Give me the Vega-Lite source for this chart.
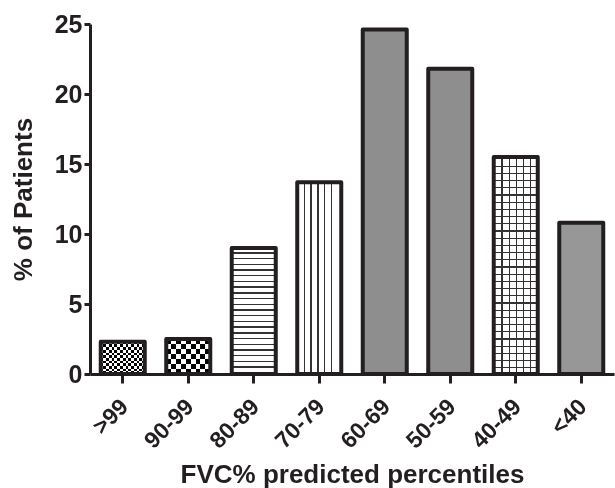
{
  "$schema": "https://vega.github.io/schema/vega-lite/v6.json",
  "width": 524,
  "height": 350,
  "autosize": {"type": "none"},
  "padding": {"left": 90, "top": 24, "right": 1, "bottom": 114},
  "background": "white",
  "data": {
    "values": [
      {"range": ">99", "pct": 2.3, "shade": "a"},
      {"range": "90-99", "pct": 2.5, "shade": "b"},
      {"range": "80-89", "pct": 9.0, "shade": "c"},
      {"range": "70-79", "pct": 13.7, "shade": "d"},
      {"range": "60-69", "pct": 24.6, "shade": "e"},
      {"range": "50-59", "pct": 21.8, "shade": "f"},
      {"range": "40-49", "pct": 15.5, "shade": "g"},
      {"range": "<40", "pct": 10.8, "shade": "h"}
    ]
  },
  "encoding": {
    "x": {
      "field": "range",
      "type": "nominal",
      "sort": null,
      "scale": {"domain": [">99", "90-99", "80-89", "70-79", "60-69", "50-59", "40-49", "<40"], "paddingInner": 0.328, "paddingOuter": 0.164, "align": 0.5},
      "axis": {
        "title": "FVC% predicted percentiles",
        "titleFont": "Liberation Sans",
        "titleFontSize": 26,
        "titleFontWeight": "bold",
        "titleColor": "#231f20",
        "titlePadding": 9,
        "labelAngle": -45,
        "labelAlign": "right",
        "labelBaseline": "top",
        "labelFont": "Liberation Sans",
        "labelFontSize": 23,
        "labelFontWeight": "bold",
        "labelColor": "#231f20",
        "labelPadding": 12,
        "labelOffset": -6,
        "domainColor": "#231f20",
        "domainWidth": 3,
        "tickColor": "#231f20",
        "tickWidth": 3,
        "tickSize": 9,
        "grid": false
      }
    },
    "y": {
      "field": "pct",
      "type": "quantitative",
      "scale": {"domain": [0, 25], "nice": false},
      "axis": {
        "title": "% of Patients",
        "titleFont": "Liberation Sans",
        "titleFontSize": 26,
        "titleFontWeight": "bold",
        "titleColor": "#231f20",
        "titlePadding": 18,
        "values": [0, 5, 10, 15, 20, 25],
        "labelFont": "Liberation Sans",
        "labelFontSize": 25,
        "labelFontWeight": "bold",
        "labelColor": "#231f20",
        "labelPadding": 2,
        "domainColor": "#231f20",
        "domainWidth": 3,
        "tickColor": "#231f20",
        "tickWidth": 3,
        "tickSize": 6,
        "grid": false
      }
    }
  },
  "layer": [
    {
      "mark": {"type": "bar"},
      "encoding": {
        "fill": {
          "field": "shade",
          "type": "nominal",
          "legend": null,
          "scale": {
            "domain": ["a", "b", "c", "d", "e", "f", "g", "h"],
            "range": ["#606060", "#7a7a7a", "#c4c4c4", "#c2c2c2", "#8e8e8e", "#8e8e8e", "#a8a8a8", "#979797"]
          }
        }
      }
    },
    {
      "transform": [{"filter": "datum.shade === 'a'"}],
      "mark": {"type": "bar", "fill": {"gradient": "linear", "x1": 0, "y1": 0, "x2": 0, "y2": 1, "stops": [
        {"offset": 0, "color": "#000000"}, {"offset": 0.0833, "color": "#000000"}, {"offset": 0.0833, "color": "#ffffff"}, {"offset": 0.1667, "color": "#ffffff"},
        {"offset": 0.1667, "color": "#000000"}, {"offset": 0.25, "color": "#000000"}, {"offset": 0.25, "color": "#ffffff"}, {"offset": 0.3333, "color": "#ffffff"},
        {"offset": 0.3333, "color": "#000000"}, {"offset": 0.4167, "color": "#000000"}, {"offset": 0.4167, "color": "#ffffff"}, {"offset": 0.5, "color": "#ffffff"},
        {"offset": 0.5, "color": "#000000"}, {"offset": 0.5833, "color": "#000000"}, {"offset": 0.5833, "color": "#ffffff"}, {"offset": 0.6667, "color": "#ffffff"},
        {"offset": 0.6667, "color": "#000000"}, {"offset": 0.75, "color": "#000000"}, {"offset": 0.75, "color": "#ffffff"}, {"offset": 0.8333, "color": "#ffffff"},
        {"offset": 0.8333, "color": "#000000"}, {"offset": 0.9167, "color": "#000000"}, {"offset": 0.9167, "color": "#ffffff"}, {"offset": 1, "color": "#ffffff"}
      ]}}
    },
    {
      "transform": [{"filter": "datum.shade === 'a'"}],
      "mark": {"type": "bar", "blend": "difference", "fill": {"gradient": "linear", "x1": 0, "y1": 0, "x2": 1, "y2": 0, "stops": [
        {"offset": 0, "color": "rgba(255,255,255,0)"}, {"offset": 0.0625, "color": "rgba(255,255,255,0)"}, {"offset": 0.0625, "color": "#ffffff"}, {"offset": 0.125, "color": "#ffffff"},
        {"offset": 0.125, "color": "rgba(255,255,255,0)"}, {"offset": 0.1875, "color": "rgba(255,255,255,0)"}, {"offset": 0.1875, "color": "#ffffff"}, {"offset": 0.25, "color": "#ffffff"},
        {"offset": 0.25, "color": "rgba(255,255,255,0)"}, {"offset": 0.3125, "color": "rgba(255,255,255,0)"}, {"offset": 0.3125, "color": "#ffffff"}, {"offset": 0.375, "color": "#ffffff"},
        {"offset": 0.375, "color": "rgba(255,255,255,0)"}, {"offset": 0.4375, "color": "rgba(255,255,255,0)"}, {"offset": 0.4375, "color": "#ffffff"}, {"offset": 0.5, "color": "#ffffff"},
        {"offset": 0.5, "color": "rgba(255,255,255,0)"}, {"offset": 0.5625, "color": "rgba(255,255,255,0)"}, {"offset": 0.5625, "color": "#ffffff"}, {"offset": 0.625, "color": "#ffffff"},
        {"offset": 0.625, "color": "rgba(255,255,255,0)"}, {"offset": 0.6875, "color": "rgba(255,255,255,0)"}, {"offset": 0.6875, "color": "#ffffff"}, {"offset": 0.75, "color": "#ffffff"},
        {"offset": 0.75, "color": "rgba(255,255,255,0)"}, {"offset": 0.8125, "color": "rgba(255,255,255,0)"}, {"offset": 0.8125, "color": "#ffffff"}, {"offset": 0.875, "color": "#ffffff"},
        {"offset": 0.875, "color": "rgba(255,255,255,0)"}, {"offset": 0.9375, "color": "rgba(255,255,255,0)"}, {"offset": 0.9375, "color": "#ffffff"}, {"offset": 1, "color": "#ffffff"}
      ]}}
    },
    {
      "transform": [{"filter": "datum.shade === 'b'"}],
      "mark": {"type": "bar", "fill": {"gradient": "linear", "x1": 0, "y1": 0, "x2": 0, "y2": 1, "stops": [
        {"offset": 0, "color": "#000000"}, {"offset": 0.1429, "color": "#000000"}, {"offset": 0.1429, "color": "#ffffff"}, {"offset": 0.2857, "color": "#ffffff"},
        {"offset": 0.2857, "color": "#000000"}, {"offset": 0.4286, "color": "#000000"}, {"offset": 0.4286, "color": "#ffffff"}, {"offset": 0.5714, "color": "#ffffff"},
        {"offset": 0.5714, "color": "#000000"}, {"offset": 0.7143, "color": "#000000"}, {"offset": 0.7143, "color": "#ffffff"}, {"offset": 0.8571, "color": "#ffffff"},
        {"offset": 0.8571, "color": "#000000"}, {"offset": 1, "color": "#000000"}
      ]}}
    },
    {
      "transform": [{"filter": "datum.shade === 'b'"}],
      "mark": {"type": "bar", "blend": "difference", "fill": {"gradient": "linear", "x1": 0, "y1": 0, "x2": 1, "y2": 0, "stops": [
        {"offset": 0, "color": "rgba(255,255,255,0)"}, {"offset": 0.1111, "color": "rgba(255,255,255,0)"}, {"offset": 0.1111, "color": "#ffffff"}, {"offset": 0.2222, "color": "#ffffff"},
        {"offset": 0.2222, "color": "rgba(255,255,255,0)"}, {"offset": 0.3333, "color": "rgba(255,255,255,0)"}, {"offset": 0.3333, "color": "#ffffff"}, {"offset": 0.4444, "color": "#ffffff"},
        {"offset": 0.4444, "color": "rgba(255,255,255,0)"}, {"offset": 0.5556, "color": "rgba(255,255,255,0)"}, {"offset": 0.5556, "color": "#ffffff"}, {"offset": 0.6667, "color": "#ffffff"},
        {"offset": 0.6667, "color": "rgba(255,255,255,0)"}, {"offset": 0.7778, "color": "rgba(255,255,255,0)"}, {"offset": 0.7778, "color": "#ffffff"}, {"offset": 0.8889, "color": "#ffffff"},
        {"offset": 0.8889, "color": "rgba(255,255,255,0)"}, {"offset": 1, "color": "rgba(255,255,255,0)"}
      ]}}
    },
    {
      "transform": [{"filter": "datum.shade === 'c'"}],
      "mark": {"type": "bar", "fill": {"gradient": "linear", "x1": 0, "y1": 0, "x2": 0, "y2": 1, "stops": [
        {"offset": 0, "color": "#ffffff"},
        {"offset": 0.0325, "color": "#ffffff"}, {"offset": 0.0325, "color": "#333333"}, {"offset": 0.0437, "color": "#333333"}, {"offset": 0.0437, "color": "#ffffff"},
        {"offset": 0.0779, "color": "#ffffff"}, {"offset": 0.0779, "color": "#333333"}, {"offset": 0.0891, "color": "#333333"}, {"offset": 0.0891, "color": "#ffffff"},
        {"offset": 0.1233, "color": "#ffffff"}, {"offset": 0.1233, "color": "#333333"}, {"offset": 0.1345, "color": "#333333"}, {"offset": 0.1345, "color": "#ffffff"},
        {"offset": 0.1687, "color": "#ffffff"}, {"offset": 0.1687, "color": "#333333"}, {"offset": 0.1799, "color": "#333333"}, {"offset": 0.1799, "color": "#ffffff"},
        {"offset": 0.2141, "color": "#ffffff"}, {"offset": 0.2141, "color": "#333333"}, {"offset": 0.2253, "color": "#333333"}, {"offset": 0.2253, "color": "#ffffff"},
        {"offset": 0.2595, "color": "#ffffff"}, {"offset": 0.2595, "color": "#333333"}, {"offset": 0.2707, "color": "#333333"}, {"offset": 0.2707, "color": "#ffffff"},
        {"offset": 0.3049, "color": "#ffffff"}, {"offset": 0.3049, "color": "#333333"}, {"offset": 0.3161, "color": "#333333"}, {"offset": 0.3161, "color": "#ffffff"},
        {"offset": 0.3503, "color": "#ffffff"}, {"offset": 0.3503, "color": "#333333"}, {"offset": 0.3615, "color": "#333333"}, {"offset": 0.3615, "color": "#ffffff"},
        {"offset": 0.3957, "color": "#ffffff"}, {"offset": 0.3957, "color": "#333333"}, {"offset": 0.4069, "color": "#333333"}, {"offset": 0.4069, "color": "#ffffff"},
        {"offset": 0.4411, "color": "#ffffff"}, {"offset": 0.4411, "color": "#333333"}, {"offset": 0.4523, "color": "#333333"}, {"offset": 0.4523, "color": "#ffffff"},
        {"offset": 0.4865, "color": "#ffffff"}, {"offset": 0.4865, "color": "#333333"}, {"offset": 0.4977, "color": "#333333"}, {"offset": 0.4977, "color": "#ffffff"},
        {"offset": 0.5319, "color": "#ffffff"}, {"offset": 0.5319, "color": "#333333"}, {"offset": 0.5431, "color": "#333333"}, {"offset": 0.5431, "color": "#ffffff"},
        {"offset": 0.5773, "color": "#ffffff"}, {"offset": 0.5773, "color": "#333333"}, {"offset": 0.5885, "color": "#333333"}, {"offset": 0.5885, "color": "#ffffff"},
        {"offset": 0.6227, "color": "#ffffff"}, {"offset": 0.6227, "color": "#333333"}, {"offset": 0.6339, "color": "#333333"}, {"offset": 0.6339, "color": "#ffffff"},
        {"offset": 0.6681, "color": "#ffffff"}, {"offset": 0.6681, "color": "#333333"}, {"offset": 0.6793, "color": "#333333"}, {"offset": 0.6793, "color": "#ffffff"},
        {"offset": 0.7134, "color": "#ffffff"}, {"offset": 0.7134, "color": "#333333"}, {"offset": 0.7246, "color": "#333333"}, {"offset": 0.7246, "color": "#ffffff"},
        {"offset": 0.7588, "color": "#ffffff"}, {"offset": 0.7588, "color": "#333333"}, {"offset": 0.7700, "color": "#333333"}, {"offset": 0.7700, "color": "#ffffff"},
        {"offset": 0.8042, "color": "#ffffff"}, {"offset": 0.8042, "color": "#333333"}, {"offset": 0.8154, "color": "#333333"}, {"offset": 0.8154, "color": "#ffffff"},
        {"offset": 0.8496, "color": "#ffffff"}, {"offset": 0.8496, "color": "#333333"}, {"offset": 0.8608, "color": "#333333"}, {"offset": 0.8608, "color": "#ffffff"},
        {"offset": 0.8950, "color": "#ffffff"}, {"offset": 0.8950, "color": "#333333"}, {"offset": 0.9062, "color": "#333333"}, {"offset": 0.9062, "color": "#ffffff"},
        {"offset": 0.9404, "color": "#ffffff"}, {"offset": 0.9404, "color": "#333333"}, {"offset": 0.9516, "color": "#333333"}, {"offset": 0.9516, "color": "#ffffff"},
        {"offset": 1, "color": "#ffffff"}
      ]}}
    },
    {
      "transform": [{"filter": "datum.shade === 'd'"}],
      "mark": {"type": "bar", "fill": {"gradient": "linear", "x1": 0, "y1": 0, "x2": 1, "y2": 0, "stops": [
        {"offset": 0, "color": "#ffffff"},
        {"offset": 0.144, "color": "#ffffff"}, {"offset": 0.144, "color": "#333333"}, {"offset": 0.174, "color": "#333333"}, {"offset": 0.174, "color": "#ffffff"},
        {"offset": 0.299, "color": "#ffffff"}, {"offset": 0.299, "color": "#333333"}, {"offset": 0.329, "color": "#333333"}, {"offset": 0.329, "color": "#ffffff"},
        {"offset": 0.453, "color": "#ffffff"}, {"offset": 0.453, "color": "#333333"}, {"offset": 0.483, "color": "#333333"}, {"offset": 0.483, "color": "#ffffff"},
        {"offset": 0.608, "color": "#ffffff"}, {"offset": 0.608, "color": "#333333"}, {"offset": 0.638, "color": "#333333"}, {"offset": 0.638, "color": "#ffffff"},
        {"offset": 0.762, "color": "#ffffff"}, {"offset": 0.762, "color": "#333333"}, {"offset": 0.792, "color": "#333333"}, {"offset": 0.792, "color": "#ffffff"},
        {"offset": 1, "color": "#ffffff"}
      ]}}
    },
    {
      "transform": [{"filter": "datum.shade === 'g'"}],
      "mark": {"type": "bar", "fill": {"gradient": "linear", "x1": 0, "y1": 0, "x2": 0, "y2": 1, "stops": [
        {"offset": 0, "color": "#ffffff"},
        {"offset": 0.0392, "color": "#ffffff"}, {"offset": 0.0392, "color": "#333333"}, {"offset": 0.0456, "color": "#333333"}, {"offset": 0.0456, "color": "#ffffff"},
        {"offset": 0.0724, "color": "#ffffff"}, {"offset": 0.0724, "color": "#333333"}, {"offset": 0.0788, "color": "#333333"}, {"offset": 0.0788, "color": "#ffffff"},
        {"offset": 0.1056, "color": "#ffffff"}, {"offset": 0.1056, "color": "#333333"}, {"offset": 0.1120, "color": "#333333"}, {"offset": 0.1120, "color": "#ffffff"},
        {"offset": 0.1387, "color": "#ffffff"}, {"offset": 0.1387, "color": "#333333"}, {"offset": 0.1451, "color": "#333333"}, {"offset": 0.1451, "color": "#ffffff"},
        {"offset": 0.1719, "color": "#ffffff"}, {"offset": 0.1719, "color": "#333333"}, {"offset": 0.1783, "color": "#333333"}, {"offset": 0.1783, "color": "#ffffff"},
        {"offset": 0.2051, "color": "#ffffff"}, {"offset": 0.2051, "color": "#333333"}, {"offset": 0.2115, "color": "#333333"}, {"offset": 0.2115, "color": "#ffffff"},
        {"offset": 0.2383, "color": "#ffffff"}, {"offset": 0.2383, "color": "#333333"}, {"offset": 0.2447, "color": "#333333"}, {"offset": 0.2447, "color": "#ffffff"},
        {"offset": 0.2715, "color": "#ffffff"}, {"offset": 0.2715, "color": "#333333"}, {"offset": 0.2779, "color": "#333333"}, {"offset": 0.2779, "color": "#ffffff"},
        {"offset": 0.3046, "color": "#ffffff"}, {"offset": 0.3046, "color": "#333333"}, {"offset": 0.3110, "color": "#333333"}, {"offset": 0.3110, "color": "#ffffff"},
        {"offset": 0.3378, "color": "#ffffff"}, {"offset": 0.3378, "color": "#333333"}, {"offset": 0.3442, "color": "#333333"}, {"offset": 0.3442, "color": "#ffffff"},
        {"offset": 0.3710, "color": "#ffffff"}, {"offset": 0.3710, "color": "#333333"}, {"offset": 0.3774, "color": "#333333"}, {"offset": 0.3774, "color": "#ffffff"},
        {"offset": 0.4042, "color": "#ffffff"}, {"offset": 0.4042, "color": "#333333"}, {"offset": 0.4106, "color": "#333333"}, {"offset": 0.4106, "color": "#ffffff"},
        {"offset": 0.4374, "color": "#ffffff"}, {"offset": 0.4374, "color": "#333333"}, {"offset": 0.4438, "color": "#333333"}, {"offset": 0.4438, "color": "#ffffff"},
        {"offset": 0.4705, "color": "#ffffff"}, {"offset": 0.4705, "color": "#333333"}, {"offset": 0.4769, "color": "#333333"}, {"offset": 0.4769, "color": "#ffffff"},
        {"offset": 0.5037, "color": "#ffffff"}, {"offset": 0.5037, "color": "#333333"}, {"offset": 0.5101, "color": "#333333"}, {"offset": 0.5101, "color": "#ffffff"},
        {"offset": 0.5369, "color": "#ffffff"}, {"offset": 0.5369, "color": "#333333"}, {"offset": 0.5433, "color": "#333333"}, {"offset": 0.5433, "color": "#ffffff"},
        {"offset": 0.5701, "color": "#ffffff"}, {"offset": 0.5701, "color": "#333333"}, {"offset": 0.5765, "color": "#333333"}, {"offset": 0.5765, "color": "#ffffff"},
        {"offset": 0.6033, "color": "#ffffff"}, {"offset": 0.6033, "color": "#333333"}, {"offset": 0.6097, "color": "#333333"}, {"offset": 0.6097, "color": "#ffffff"},
        {"offset": 0.6364, "color": "#ffffff"}, {"offset": 0.6364, "color": "#333333"}, {"offset": 0.6428, "color": "#333333"}, {"offset": 0.6428, "color": "#ffffff"},
        {"offset": 0.6696, "color": "#ffffff"}, {"offset": 0.6696, "color": "#333333"}, {"offset": 0.6760, "color": "#333333"}, {"offset": 0.6760, "color": "#ffffff"},
        {"offset": 0.7028, "color": "#ffffff"}, {"offset": 0.7028, "color": "#333333"}, {"offset": 0.7092, "color": "#333333"}, {"offset": 0.7092, "color": "#ffffff"},
        {"offset": 0.7360, "color": "#ffffff"}, {"offset": 0.7360, "color": "#333333"}, {"offset": 0.7424, "color": "#333333"}, {"offset": 0.7424, "color": "#ffffff"},
        {"offset": 0.7692, "color": "#ffffff"}, {"offset": 0.7692, "color": "#333333"}, {"offset": 0.7756, "color": "#333333"}, {"offset": 0.7756, "color": "#ffffff"},
        {"offset": 0.8023, "color": "#ffffff"}, {"offset": 0.8023, "color": "#333333"}, {"offset": 0.8087, "color": "#333333"}, {"offset": 0.8087, "color": "#ffffff"},
        {"offset": 0.8355, "color": "#ffffff"}, {"offset": 0.8355, "color": "#333333"}, {"offset": 0.8419, "color": "#333333"}, {"offset": 0.8419, "color": "#ffffff"},
        {"offset": 0.8687, "color": "#ffffff"}, {"offset": 0.8687, "color": "#333333"}, {"offset": 0.8751, "color": "#333333"}, {"offset": 0.8751, "color": "#ffffff"},
        {"offset": 0.9019, "color": "#ffffff"}, {"offset": 0.9019, "color": "#333333"}, {"offset": 0.9083, "color": "#333333"}, {"offset": 0.9083, "color": "#ffffff"},
        {"offset": 0.9350, "color": "#ffffff"}, {"offset": 0.9350, "color": "#333333"}, {"offset": 0.9414, "color": "#333333"}, {"offset": 0.9414, "color": "#ffffff"},
        {"offset": 0.9682, "color": "#ffffff"}, {"offset": 0.9682, "color": "#333333"}, {"offset": 0.9746, "color": "#333333"}, {"offset": 0.9746, "color": "#ffffff"},
        {"offset": 1, "color": "#ffffff"}
      ]}}
    },
    {
      "transform": [{"filter": "datum.shade === 'g'"}],
      "mark": {"type": "bar", "fill": {"gradient": "linear", "x1": 0, "y1": 0, "x2": 1, "y2": 0, "stops": [
        {"offset": 0, "color": "rgba(51,51,51,0)"},
        {"offset": 0.173, "color": "rgba(51,51,51,0)"}, {"offset": 0.173, "color": "#333333"}, {"offset": 0.205, "color": "#333333"}, {"offset": 0.205, "color": "rgba(51,51,51,0)"},
        {"offset": 0.336, "color": "rgba(51,51,51,0)"}, {"offset": 0.336, "color": "#333333"}, {"offset": 0.368, "color": "#333333"}, {"offset": 0.368, "color": "rgba(51,51,51,0)"},
        {"offset": 0.498, "color": "rgba(51,51,51,0)"}, {"offset": 0.498, "color": "#333333"}, {"offset": 0.530, "color": "#333333"}, {"offset": 0.530, "color": "rgba(51,51,51,0)"},
        {"offset": 0.661, "color": "rgba(51,51,51,0)"}, {"offset": 0.661, "color": "#333333"}, {"offset": 0.693, "color": "#333333"}, {"offset": 0.693, "color": "rgba(51,51,51,0)"},
        {"offset": 0.825, "color": "rgba(51,51,51,0)"}, {"offset": 0.825, "color": "#333333"}, {"offset": 0.857, "color": "#333333"}, {"offset": 0.857, "color": "rgba(51,51,51,0)"},
        {"offset": 1, "color": "rgba(51,51,51,0)"}
      ]}}
    },
    {
      "mark": {"type": "bar", "fill": "transparent", "stroke": "#231f20", "strokeWidth": 4, "strokeJoin": "round"}
    }
  ],
  "config": {"view": {"stroke": null}}
}
